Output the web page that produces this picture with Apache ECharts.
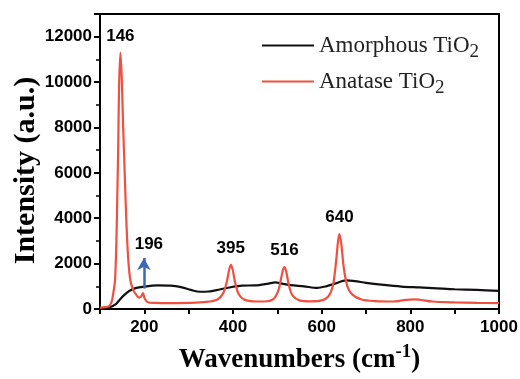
<!DOCTYPE html>
<html>
<head>
<meta charset="utf-8">
<script src="https://cdn.jsdelivr.net/npm/echarts@6/dist/echarts.min.js"></script>
<style>
  html, body { margin: 0; padding: 0; background: #fff; }
  #chart { width: 520px; height: 379px; }
</style>
</head>
<body>
<div id="chart"></div>
<script>
// Raman spectra
const anataseWn = [100, 110, 120, 126, 130, 134, 137, 139, 141, 143, 146, 149, 152, 156, 160, 164, 169, 176, 182, 188, 193, 197, 201, 208, 225, 250, 300, 340, 365, 378, 386, 391, 395, 399, 405, 413, 425, 445, 470, 490, 502, 509, 513, 516, 520, 526, 534, 550, 575, 600, 615, 625, 632, 637, 640, 644, 650, 658, 670, 690, 720, 760, 790, 810, 850, 900, 950, 1000]
const anataseInt = [60, 80, 120, 300, 700, 1300, 3000, 5000, 7000, 9800, 11300, 10200, 8200, 5800, 3600, 2100, 1200, 800, 620, 500, 560, 700, 450, 300, 270, 260, 270, 310, 420, 700, 1200, 1700, 1950, 1750, 1150, 650, 420, 340, 330, 420, 800, 1400, 1750, 1850, 1650, 1050, 600, 380, 340, 380, 550, 1000, 2000, 3000, 3300, 2900, 1800, 1000, 620, 420, 350, 330, 400, 420, 330, 290, 270, 260]

const amorphWn = [100, 120, 135, 145, 155, 165, 180, 200, 230, 260, 285, 305, 325, 345, 370, 395, 420, 450, 480, 495, 510, 530, 560, 590, 610, 630, 655, 675, 700, 740, 780, 820, 860, 900, 950, 1000]
const amorphInt = [20, 60, 200, 420, 620, 780, 920, 990, 1040, 1030, 950, 840, 760, 770, 860, 960, 1030, 1040, 1120, 1170, 1120, 1050, 1000, 930, 1000, 1120, 1260, 1230, 1150, 1060, 990, 950, 910, 870, 840, 800]

const peakLabels = [146, 395, 516, 640]
const arrowLabel = '196'
const arrowWn = 199
const arrowFrom = 900
const arrowTo = 2250

const xTicks = [200, 400, 600, 800, 1000]

const zip = (xs, ys) => xs.map((x, i) => [x, ys[i]])

const chart = echarts.init(document.getElementById('chart'))

const tickFont = { color: '#000', fontFamily: 'Liberation Sans', fontWeight: 'bold', fontSize: 17 }

chart.setOption({
  animation: false,
  grid: {
    left: 100, right: 21, top: 14, bottom: 70,
    outerBoundsMode: 'none',
    show: true, borderColor: '#000', borderWidth: 2
  },
  legend: {
    orient: 'vertical',
    left: 257,
    top: 29,
    icon: 'rect',
    itemWidth: 52,
    itemHeight: 2,
    itemGap: 8,
    textStyle: {
      color: '#222',
      fontFamily: 'Liberation Serif',
      fontSize: 23,
      rich: {
        sub: { fontFamily: 'Liberation Serif', fontSize: 19, padding: [14, 0, 0, 0], color: '#222' }
      }
    },
    formatter: (name) => name.replace('TiO2', 'TiO{sub|2}'),
    data: ['Amorphous TiO2', 'Anatase TiO2']
  },
  xAxis: {
    type: 'value',
    min: 100,
    max: 1000,
    interval: 100,
    name: 'Wavenumbers (cm{sup|-1})',
    nameLocation: 'middle',
    nameGap: 34,
    nameTextStyle: {
      color: '#000',
      fontFamily: 'Liberation Serif',
      fontWeight: 'bold',
      fontSize: 27,
      rich: {
        sup: { fontFamily: 'Liberation Serif', fontWeight: 'bold', fontSize: 19, padding: [0, 0, 16, 0], color: '#000' }
      }
    },
    axisLine: { lineStyle: { color: '#000', width: 2 } },
    axisTick: { inside: false, length: 5, lineStyle: { color: '#000', width: 2 } },
    axisLabel: {
      ...tickFont,
      margin: 10,
      formatter: (v) => (xTicks.includes(v) ? String(v) : '')
    },
    splitLine: { show: false }
  },
  yAxis: {
    type: 'value',
    min: 0,
    max: 13000,
    interval: 2000,
    name: 'Intensity (a.u.)',
    nameLocation: 'middle',
    nameMoveOverlap: false,
    nameGap: 59,
    nameTextStyle: {
      color: '#000',
      fontFamily: 'Liberation Serif',
      fontWeight: 'bold',
      fontSize: 30,
      padding: [0, 18, 0, 0]
    },
    axisLine: { show: true, lineStyle: { color: '#000', width: 2 } },
    axisTick: { show: true, inside: false, length: 6, lineStyle: { color: '#000', width: 2 } },
    minorTick: { show: true, splitNumber: 2, length: 4, lineStyle: { color: '#000', width: 1.5 } },
    axisLabel: { ...tickFont, margin: 8, showMaxLabel: false, formatter: (v) => String(v) },
    splitLine: { show: false }
  },
  series: [
    {
      name: 'Amorphous TiO2',
      type: 'line',
      data: zip(amorphWn, amorphInt),
      symbol: 'none',
      smooth: 0.3,
      lineStyle: { color: '#111', width: 2.2 },
      itemStyle: { color: '#111' },
      markLine: {
        silent: true,
        symbol: ['none', 'arrow'],
        symbolSize: [10, 12],
        lineStyle: { color: '#3b67bd', width: 2.5, type: 'solid' },
        label: {
          show: true,
          position: 'end',
          formatter: arrowLabel,
          offset: [5, 0],
          ...tickFont
        },
        data: [[{ coord: [arrowWn, arrowFrom] }, { coord: [arrowWn, arrowTo] }]]
      }
    },
    {
      name: 'Anatase TiO2',
      type: 'line',
      data: zip(anataseWn, anataseInt),
      symbol: 'none',
      smooth: 0.3,
      lineStyle: { color: '#f0503f', width: 2.2 },
      itemStyle: { color: '#f0503f' },
      markPoint: {
        silent: true,
        symbol: 'circle',
        symbolSize: 0,
        label: {
          show: true,
          position: 'top',
          distance: 8,
          formatter: (p) => p.name,
          ...tickFont
        },
        data: peakLabels.map((p) => ({
          name: String(p),
          coord: [p, anataseInt[anataseWn.indexOf(p)]]
        }))
      }
    }
  ]
})
</script>
</body>
</html>
